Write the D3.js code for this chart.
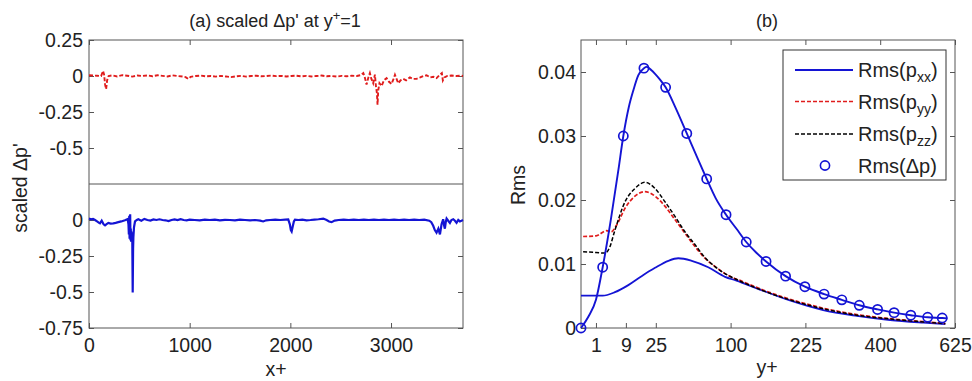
<!DOCTYPE html>
<html><head><meta charset="utf-8">
<script src="https://cdn.jsdelivr.net/npm/d3@7"></script>
<style>body{margin:0;background:#fff} text{font-family:"Liberation Sans",Arial,Helvetica,sans-serif;fill:#222}</style>
</head><body><svg id="c" width="972" height="381"></svg>
<script>
// ---------- DATA ----------
// Panel (a), upper: scaled delta p' (red dashed)
const upX = [0,40,80,120,140,150,160,170,180,195,230,280,330,380,430,480,530,580,630,680,730,780,830,880,930,960,985,1010,1060,1110,1160,1210,1260,1310,1360,1410,1460,1510,1560,1610,1660,1710,1760,1810,1860,1910,1960,2010,2060,2110,2160,2210,2260,2310,2360,2410,2460,2510,2560,2610,2660,2700,2725,2740,2757,2775,2790,2805,2823,2840,2850,2860,2866,2873,2885,2906,2930,2956,2980,3005,3025,3039,3055,3072,3095,3121,3150,3188,3220,3254,3290,3320,3353,3390,3420,3452,3480,3505,3515,3530,3560,3600,3650,3700,3715];
const upY = [0.005,0.003,0.002,0,0.035,0.01,-0.06,-0.09,-0.03,0,0.004,-0.003,0.006,0.002,-0.004,0.003,0,0.004,-0.002,0.005,0.001,-0.003,0.004,0,-0.004,-0.008,-0.02,-0.006,0,0.003,-0.002,0,-0.004,0.001,-0.003,-0.008,-0.002,0.001,-0.004,0,0.002,-0.002,0,0.003,-0.001,0.001,-0.003,0,0.002,-0.002,0.001,-0.003,0,0.003,-0.002,0,-0.004,0.001,-0.002,0.002,0,0.006,0.02,-0.01,-0.06,-0.01,0.02,-0.02,-0.05,0.01,-0.07,-0.12,-0.2,-0.1,-0.05,-0.07,-0.03,-0.015,-0.04,-0.055,-0.02,0.009,-0.02,-0.05,-0.03,-0.02,-0.03,-0.01,-0.02,-0.02,-0.01,0,0.005,-0.01,-0.005,-0.015,0.005,0.02,-0.03,-0.01,0,0.003,0,0.002,0];
// Panel (a), lower: (blue solid)
const loX = [0,20,40,60,80,100,109,126,145,159,175,192,215,241,265,291,320,357,384,392,396,400,403,406,409,412,415,418,421,424,427,430,434,438,441,447,457,475,490,520,550,580,610,640,670,700,730,760,790,820,850,880,910,940,970,1000,1050,1100,1150,1200,1250,1300,1350,1400,1450,1500,1550,1600,1650,1700,1730,1760,1800,1850,1900,1950,1979,1995,2005,2013,2022,2035,2046,2080,2120,2160,2200,2240,2280,2327,2360,2385,2410,2440,2480,2530,2580,2630,2680,2730,2780,2830,2880,2930,2980,3030,3080,3130,3180,3230,3280,3330,3380,3400,3419,3435,3452,3470,3486,3502,3518,3528,3535,3545,3552,3568,3585,3600,3618,3635,3651,3668,3684,3700,3715];
const loY = [0.01,0.005,0.008,0,-0.01,-0.02,-0.023,-0.005,-0.03,-0.037,-0.028,-0.02,-0.025,-0.023,-0.02,-0.015,-0.01,-0.002,0.006,-0.03,-0.1,0.03,-0.13,-0.02,0.04,-0.14,-0.06,-0.15,-0.08,-0.15,-0.1,-0.14,-0.504,-0.2,-0.12,-0.05,-0.01,0,0.005,-0.005,0.008,0,-0.004,0.004,0,0.005,0,-0.002,-0.008,0,0.004,0,0.006,0,-0.003,0.002,0,-0.002,0.003,0,0.002,-0.002,0.001,0,-0.002,0.002,0,-0.002,0,-0.004,-0.01,-0.002,0,0.002,0,0.003,0.004,-0.03,-0.07,-0.08,-0.05,-0.01,0.003,0,0.002,-0.002,0,0.003,0.005,0.01,0,-0.01,-0.015,-0.004,0,0.002,0,0.002,0,0.002,0,0.003,0,0.002,0,0.002,0,0.002,0,0.003,0,0.002,-0.005,-0.015,-0.04,-0.07,-0.088,-0.06,-0.1,-0.03,0.005,-0.04,-0.06,-0.01,0.01,-0.005,-0.02,0,0.005,-0.005,-0.02,0,-0.01,-0.005,0];
const aYTicksUp = [0.25, 0, -0.25, -0.5];
const aYTicksLo = [0, -0.25, -0.5, -0.75];
const aXTicks = [0, 1000, 2000, 3000];

// Panel (b): Rms profiles vs y+
const dpLineYp = [0,0.25,1,2.1,4,6.25,8,10.2,12.3,14.7,17.7,19.3,22,24.5,27.9,32,39.7,50,59.3,70.6,81,94,108,122,137,153,187,224,264,304,346,393,438,486,537,583,600];
const dpLineV  = [0,0.0018,0.0044,0.0095,0.017,0.0247,0.03,0.0345,0.0372,0.0395,0.0406,0.0408,0.0403,0.0397,0.0388,0.0376,0.0345,0.0304,0.027,0.0233,0.0203,0.0177,0.0155,0.01344,0.0118,0.0104,0.0081,0.00645,0.0053,0.0044,0.00355,0.0029,0.0024,0.002,0.00167,0.00156,0.0015];
const dpCircYp = [0,2.1,8,17.7,32,50,70.6,94,122,153,187,224,264,304,346,393,438,486,537,583];
const dpCircV  = [0,0.0095,0.03,0.0406,0.0376,0.0304,0.0233,0.0177,0.01344,0.0104,0.0081,0.00645,0.0053,0.0044,0.00355,0.0029,0.0024,0.002,0.00167,0.00156];
const pxxYp = [0,1,2.1,5.15,10,16.4,24.5,34.1,42.3,54.8,72.3,92.7,108,138,195,262,340,427,524,593];
const pxxV  = [0.00505,0.00505,0.00505,0.0056,0.0067,0.0081,0.0094,0.0105,0.0109,0.0105,0.0095,0.008,0.0074,0.0062,0.0043,0.0028,0.0019,0.00125,0.00083,0.0006];
const pyyYp = [0.02,1,2.96,4,5.7,8.64,13,18.3,24.5,31.6,39.6,48.4,58.2,68.7,80.3,92.7,118,149,195,262,340,427,524,593];
const pyyV  = [0.0143,0.0144,0.0152,0.015,0.0161,0.0187,0.0206,0.0213,0.0206,0.019,0.0169,0.0148,0.0127,0.0109,0.0096,0.0085,0.0072,0.0059,0.0045,0.0031,0.0021,0.00145,0.001,0.0007];
const pzzYp = [0.02,1,2.56,3.6,5.15,8.64,13,18.3,24.5,31.6,39.6,48.4,58.2,68.7,80.3,92.7,118,149,195,262,340,427,524,593];
const pzzV  = [0.0119,0.0118,0.0117,0.0125,0.0153,0.0197,0.0218,0.02276,0.0218,0.0197,0.0174,0.015,0.013,0.011,0.0096,0.0085,0.0071,0.0058,0.0044,0.003,0.002,0.0014,0.00095,0.00068];
const bXTicks = [1, 9, 25, 100, 225, 400, 625];
const bYTicks = [0, 0.01, 0.02, 0.03, 0.04];
const legendLabels = [["Rms(p","xx",")"],["Rms(p","yy",")"],["Rms(p","zz",")"],["Rms(\u0394p)","",""]];

// ---------- DRAW ----------
const svg = d3.select("#c");
const FONT = "Liberation Sans, Arial, Helvetica, sans-serif";
const FS = 19.5;
const BLUE = "#1414d4", RED = "#e01c1c", FRAME = "#555";
const fmt = v => String(v);

function styleAxis(g){
  g.attr("font-size", FS).attr("font-family", FONT);
  g.select(".domain").remove();
  g.selectAll(".tick line").attr("stroke", FRAME);
  g.selectAll(".tick text").attr("fill", "#222");
}

// Panel (a)
const xL = d3.scaleLinear().domain([0, 3715]).range([89, 463]);
const yU = d3.scaleLinear().domain([-0.75, 0.25]).range([184, 40]);
const yD = d3.scaleLinear().domain([-0.75, 0.25]).range([328, 184]);

svg.append("g").attr("transform","translate(89,0)")
  .call(d3.axisLeft(yU).tickValues(aYTicksUp).tickSize(-5).tickPadding(6).tickFormat(fmt)).call(styleAxis);
svg.append("g").attr("transform","translate(89,0)")
  .call(d3.axisLeft(yD).tickValues(aYTicksLo).tickSize(-5).tickPadding(6).tickFormat(fmt)).call(styleAxis);
svg.append("g").attr("transform","translate(463,0)")
  .call(d3.axisRight(yU).tickValues(aYTicksUp).tickSize(-5).tickFormat("")).call(styleAxis);
svg.append("g").attr("transform","translate(463,0)")
  .call(d3.axisRight(yD).tickValues(aYTicksLo).tickSize(-5).tickFormat("")).call(styleAxis);
svg.append("g").attr("transform","translate(0,328)")
  .call(d3.axisBottom(xL).tickValues(aXTicks).tickSize(-5).tickPadding(10).tickFormat(fmt)).call(styleAxis);
svg.append("g").attr("transform","translate(0,40)")
  .call(d3.axisTop(xL).tickValues(aXTicks).tickSize(-5).tickFormat("")).call(styleAxis);

svg.append("rect").attr("x",89).attr("y",40).attr("width",374).attr("height",288)
  .attr("fill","none").attr("stroke",FRAME).attr("stroke-width",1);
svg.append("line").attr("x1",89).attr("x2",463).attr("y1",yU(-0.75)).attr("y2",yU(-0.75))
  .attr("stroke",FRAME).attr("stroke-width",1);

const upData = upX.map((x,i)=>[x, upY[i]]);
const loData = loX.map((x,i)=>[x, loY[i]]);
svg.append("path").datum(upData)
  .attr("d", d3.line().x(d=>xL(d[0])).y(d=>yU(d[1])))
  .attr("fill","none").attr("stroke",RED).attr("stroke-width",1.9).attr("stroke-dasharray","4,2");
svg.append("path").datum(loData)
  .attr("d", d3.line().x(d=>xL(d[0])).y(d=>yD(d[1])))
  .attr("fill","none").attr("stroke",BLUE).attr("stroke-width",2.2);

const tA = svg.append("text").attr("x",275).attr("y",27).attr("text-anchor","middle").attr("font-size",18);
tA.append("tspan").text("(a) scaled \u0394p' at y");
tA.append("tspan").attr("font-size",13).attr("dy",-7).text("+");
tA.append("tspan").attr("dy",7).text("=1");
svg.append("text").attr("x",276).attr("y",376).attr("text-anchor","middle").attr("font-size",FS).text("x+");
svg.append("text").attr("transform","translate(27,188) rotate(-90)").attr("text-anchor","middle").attr("font-size",FS).text("scaled \u0394p'");

// Panel (b)
const xR = d3.scaleSqrt().domain([0, 625]).range([581, 955]);
const yR = d3.scaleLinear().domain([0, 0.045]).range([328, 40]);

svg.append("g").attr("transform","translate(581,0)")
  .call(d3.axisLeft(yR).tickValues(bYTicks).tickSize(-5).tickPadding(5).tickFormat(fmt)).call(styleAxis);
svg.append("g").attr("transform","translate(955,0)")
  .call(d3.axisRight(yR).tickValues(bYTicks).tickSize(-5).tickFormat("")).call(styleAxis);
svg.append("g").attr("transform","translate(0,328)")
  .call(d3.axisBottom(xR).tickValues(bXTicks).tickSize(-5).tickPadding(10).tickFormat(fmt)).call(styleAxis);
svg.append("g").attr("transform","translate(0,40)")
  .call(d3.axisTop(xR).tickValues(bXTicks).tickSize(-5).tickFormat("")).call(styleAxis);
svg.append("rect").attr("x",581).attr("y",40).attr("width",374).attr("height",288)
  .attr("fill","none").attr("stroke",FRAME).attr("stroke-width",1);

const lineR = d3.line().x(d=>xR(d[0])).y(d=>yR(d[1])).curve(d3.curveMonotoneX);
const series = [
  {yp: pxxYp, v: pxxV, stroke: BLUE, w: 1.8, dash: null},
  {yp: pyyYp, v: pyyV, stroke: RED, w: 1.7, dash: "4,2"},
  {yp: pzzYp, v: pzzV, stroke: "#000", w: 1.5, dash: "4,2"},
  {yp: dpLineYp, v: dpLineV, stroke: BLUE, w: 1.9, dash: null}
];
series.forEach(s => {
  svg.append("path").datum(s.yp.map((x,i)=>[x, s.v[i]]))
    .attr("d", lineR).attr("fill","none").attr("stroke", s.stroke)
    .attr("stroke-width", s.w).attr("stroke-dasharray", s.dash);
});
svg.append("g").selectAll("circle").data(dpCircYp.map((x,i)=>[x, dpCircV[i]])).join("circle")
  .attr("cx", d=>xR(d[0])).attr("cy", d=>yR(d[1])).attr("r", 4.6)
  .attr("fill","none").attr("stroke",BLUE).attr("stroke-width",1.7);

svg.append("text").attr("x",767).attr("y",27).attr("text-anchor","middle").attr("font-size",18).text("(b)");
svg.append("text").attr("x",767).attr("y",374).attr("text-anchor","middle").attr("font-size",FS).text("y+");
svg.append("text").attr("transform","translate(525,185) rotate(-90)").attr("text-anchor","middle").attr("font-size",FS).text("Rms");

// Legend
const lg = svg.append("g");
lg.append("rect").attr("x",783).attr("y",50).attr("width",163).attr("height",130)
  .attr("fill","#fff").attr("stroke","#333").attr("stroke-width",1);
const legY = [70, 101.5, 134, 165.5];
const legStyle = [
  {stroke: BLUE, w: 1.8, dash: null},
  {stroke: RED, w: 1.5, dash: "4,2"},
  {stroke: "#000", w: 1.4, dash: "4,2"}
];
legStyle.forEach((s,i)=>{
  lg.append("line").attr("x1",795).attr("x2",853).attr("y1",legY[i]).attr("y2",legY[i])
    .attr("stroke",s.stroke).attr("stroke-width",s.w).attr("stroke-dasharray",s.dash);
});
lg.append("circle").attr("cx",825).attr("cy",legY[3]).attr("r",4.6).attr("fill","none").attr("stroke",BLUE).attr("stroke-width",1.6);
legendLabels.forEach((lab,i)=>{
  const t = lg.append("text").attr("x",858).attr("y",legY[i]+7).attr("font-size",20);
  t.append("tspan").text(lab[0]);
  if (lab[1]) {
    t.append("tspan").attr("font-size",14).attr("dy",5).text(lab[1]);
    t.append("tspan").attr("dy",-5).text(lab[2]);
  }
});
</script></body></html>
